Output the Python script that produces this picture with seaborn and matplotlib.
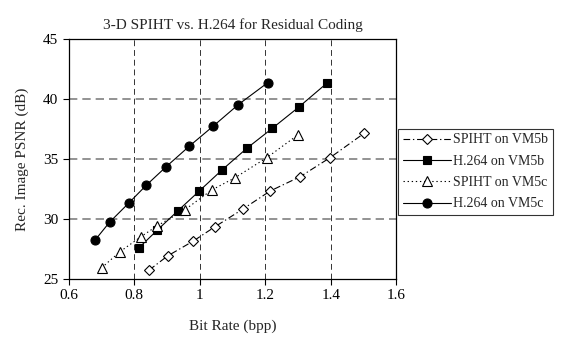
import pandas as pd
import matplotlib
matplotlib.use("Agg")
import matplotlib.pyplot as plt
import seaborn as sns

# Values
spiht_5b_rate = [0.846, 0.902, 0.981, 1.047, 1.131, 1.215, 1.307, 1.398, 1.502]
spiht_5b_psnr = [25.75, 26.92, 28.17, 29.36, 30.81, 32.33, 33.53, 35.11, 37.14]

h264_5b_rate = [0.815, 0.871, 0.933, 0.998, 1.068, 1.144, 1.222, 1.302, 1.388]
h264_5b_psnr = [27.61, 29.08, 30.67, 32.31, 34.08, 35.89, 37.56, 39.31, 41.31]

spiht_5c_rate = [0.701, 0.757, 0.821, 0.871, 0.954, 1.037, 1.108, 1.205, 1.301]
spiht_5c_psnr = [25.94, 27.28, 28.53, 29.44, 30.75, 32.42, 33.44, 35.11, 37.03]

h264_5c_rate = [0.681, 0.725, 0.783, 0.837, 0.898, 0.969, 1.042, 1.118, 1.208]
h264_5c_psnr = [28.25, 29.73, 31.31, 32.81, 34.36, 36.08, 37.75, 39.53, 41.36]

series_names = ["SPIHT on VM5b", "H.264 on VM5b", "SPIHT on VM5c", "H.264 on VM5c"]
x_ticks = [0.6, 0.8, 1.0, 1.2, 1.4, 1.6]
x_tick_labels = ["0.6", "0.8", "1", "1.2", "1.4", "1.6"]
y_ticks = [25, 30, 35, 40, 45]

df = pd.concat([
    pd.DataFrame({"rate": spiht_5b_rate, "psnr": spiht_5b_psnr, "series": series_names[0]}),
    pd.DataFrame({"rate": h264_5b_rate, "psnr": h264_5b_psnr, "series": series_names[1]}),
    pd.DataFrame({"rate": spiht_5c_rate, "psnr": spiht_5c_psnr, "series": series_names[2]}),
    pd.DataFrame({"rate": h264_5c_rate, "psnr": h264_5c_psnr, "series": series_names[3]}),
])

sns.set_theme(style="white")
plt.rcParams['font.family'] = ['Liberation Serif', 'DejaVu Serif']

styles = {
    "SPIHT on VM5b": dict(marker="D", markersize=5, markerfacecolor="white", linestyle=(0, (6, 2.5, 1.2, 2.5))),
    "H.264 on VM5b": dict(marker="s", markersize=6, markerfacecolor="black", linestyle="-"),
    "SPIHT on VM5c": dict(marker="^", markersize=7.5, markerfacecolor="white", linestyle=(0, (1.2, 2.5))),
    "H.264 on VM5c": dict(marker="o", markersize=6.5, markerfacecolor="black", linestyle="-"),
}

fig = plt.figure(figsize=(5.62, 3.51), dpi=100)
ax = fig.add_axes([0.122, 0.205, 0.583, 0.684])

for name in series_names:
    sub = df[df["series"] == name]
    sns.lineplot(data=sub, x="rate", y="psnr", ax=ax, color="black", linewidth=0.8,
                 markeredgecolor="black", markeredgewidth=0.8, label=name, **styles[name])

ax.set_xlim(0.6, 1.6)
ax.set_ylim(25, 45)
ax.set_xticks(x_ticks)
ax.set_xticklabels(x_tick_labels)
ax.set_yticks(y_ticks)

for yv in y_ticks[1:-1]:
    ax.axhline(yv, color="#808080", linewidth=1.2, linestyle=(0, (5, 3)), zorder=0)
for xv in x_ticks[1:-1]:
    ax.axvline(xv, color="#333333", linewidth=0.7, linestyle=(0, (6, 4)), zorder=0)

for side in ax.spines.values():
    side.set_color("black")
    side.set_linewidth(0.9)

ax.tick_params(axis="both", which="both", direction="out", length=4, width=0.8,
               colors="black", labelsize=11, bottom=True, left=True)

ax.set_title("3-D SPIHT vs. H.264 for Residual Coding", fontsize=11, pad=7)
ax.set_xlabel("Bit Rate (bpp)", fontsize=11, labelpad=12)
ax.set_ylabel("Rec. Image PSNR (dB)", fontsize=11, labelpad=10)

leg = ax.legend(loc="center left", bbox_to_anchor=(0.709, 0.51), bbox_transform=fig.transFigure,
                frameon=True, fancybox=False, fontsize=10, handlelength=3.4,
                borderpad=0.35, labelspacing=0.6, handletextpad=0.2, borderaxespad=0)
leg.get_frame().set_edgecolor("black")
leg.get_frame().set_linewidth(0.8)

fig.savefig("out.png", dpi=100)
